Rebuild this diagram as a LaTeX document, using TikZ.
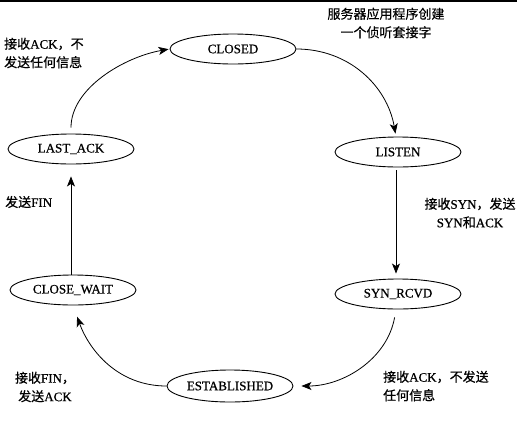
\documentclass[tikz,border=0pt]{standalone}
\usepackage{fontspec}
\setmainfont{Liberation Serif}[FakeBold=0.6,AutoFakeBold=0.6]
\newfontfamily\cjk{Noto Sans CJK SC}[FakeBold=0.5,AutoFakeBold=0.5]
\usetikzlibrary{shapes.geometric,arrows.meta}
\newcommand\zh[1]{{\cjk #1}}
\begin{document}
\begin{tikzpicture}[x=1pt,y=-1pt,
  st/.style={ellipse,draw,line width=0.9pt,minimum width=126pt,minimum height=30pt,inner sep=0pt,font=\fontsize{13}{15}\selectfont\bfseries},
  lbl/.style={font=\fontsize{13}{18.5}\selectfont\bfseries,inner sep=0pt},
  arr/.style={line width=0.8pt,-{Stealth[length=10pt,width=8pt,inset=2.5pt]}}]
\useasboundingbox (0,0) rectangle (522,421);
\coordinate (bl) at (0,1);
\coordinate (br) at (517,1);
\draw[line width=1.5pt] (bl) -- (br);
% states
\node[st] (closed) at (233,49) {CLOSED};
\node[st] (listen) at (398,152) {LISTEN};
\node[st] (syn) at (398,294) {SYN\_RCVD};
\node[st,minimum height=32pt] (est) at (230,386) {ESTABLISHED};
\node[st] (cw) at (73,290) {CLOSE\_WAIT};
\node[st] (la) at (71,149) {LAST\_ACK};
% labels
\node[lbl,align=center] (t1) at (386,23) {\zh{服务器应用程序创建}\\\zh{一个侦听套接字}};
\node[lbl,align=left,anchor=west] (t2) at (4,53) {\zh{接收}ACK\zh{，不}\\\zh{发送任何信息}};
\node[lbl,anchor=west] (t3) at (5,202) {\zh{发送}FIN};
\node[lbl,align=center] (t4) at (470,213) {\zh{接收}SYN\zh{，发送}\\SYN\zh{和}ACK};
\node[lbl,align=center] (t5) at (45,387) {\zh{接收}FIN\zh{，}\\\zh{发送}ACK};
\node[lbl,align=left,anchor=west] (t6) at (383,386) {\zh{接收}ACK\zh{，不发送}\\\zh{任何信息}};
% transitions
\draw[arr,shorten <=6pt,shorten >=1pt] (la.north) to[out=90,in=190,looseness=0.9] (closed.west);
\draw[arr,shorten >=3pt] (closed.east) to[out=0,in=100] ([xshift=-2pt]listen.north);
\draw[arr,shorten <=3pt,shorten >=5pt] ([xshift=-2pt]listen.south) -- ([xshift=-2pt]syn.north);
\draw[arr,shorten <=8pt,shorten >=8pt] ([xshift=-2pt]syn.south) to[out=-100,in=0] (est.east);
\draw[arr,shorten >=12pt] (est.west) to[out=180,in=-70] (cw.south);
\draw[arr,shorten >=12pt] (cw.north -| la.south) -- (la.south);
\end{tikzpicture}
\end{document}
